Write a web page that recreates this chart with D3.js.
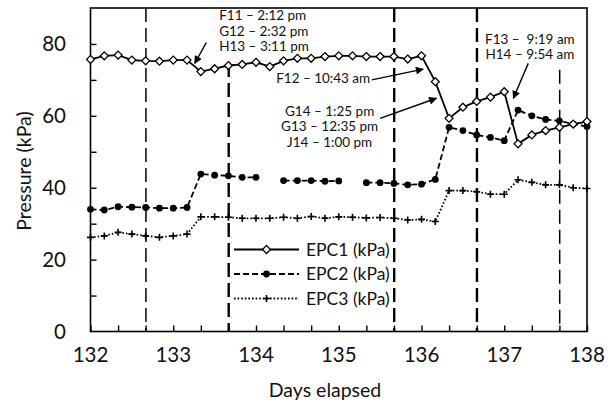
<!DOCTYPE html>
<html>
<head>
<meta charset="utf-8">
<script src="https://cdn.jsdelivr.net/npm/d3@7"></script>
<style>
  body { margin: 0; background: #fff; }
  svg { font-family: Lato, "Open Sans", sans-serif; }
</style>
</head>
<body>
<svg id="chart" width="609" height="411"></svg>
<script>
// readings every 4 hours from day 132 to day 138
const step = 1 / 6;
const epc1 = [75.7, 76.7, 76.9, 75.5, 75.3, 75.2, 75.5, 75.5, 72.3, 73.1, 74.0, 74.3, 74.9, 73.7,
              75.3, 76.0, 76.0, 76.5, 76.7, 76.7, 76.5, 76.5, 76.5, 75.8, 76.7, 69.5, 59.3, 62.4,
              64.0, 65.2, 66.7, 52.2, 54.7, 55.9, 56.8, 57.7, 58.4];
const epc2 = [34.0, 33.8, 34.7, 34.6, 34.5, 34.3, 34.3, 34.5, 43.8, 43.5, 43.3, 42.9, 42.9, null,
              42.0, 42.0, 42.0, 41.8, 41.9, null, 41.4, 41.4, 41.2, 40.8, 41.0, 42.3, 56.8, 55.9,
              54.7, 54.0, 53.1, 61.6, 60.0, 59.0, 58.6, 57.7, 57.0];
const epc3 = [26.2, 26.6, 27.6, 27.1, 26.6, 26.2, 26.6, 27.1, 31.9, 31.9, 31.8, 31.5, 31.5, 31.5,
              31.8, 31.5, 32.0, 31.5, 31.9, 31.8, 31.6, 31.7, 31.5, 31.0, 31.2, 30.6, 39.2, 39.2,
              38.9, 38.2, 38.2, 42.2, 41.5, 40.8, 40.8, 40.0, 39.8];
const seriesNames = ["EPC1 (kPa)", "EPC2 (kPa)", "EPC3 (kPa)"];
const xTickLabels = [132, 133, 134, 135, 136, 137, 138];
const yTickLabels = [0, 20, 40, 60, 80];
// vertical event lines (day), heavy = true for the bold ones, top = where the line starts
const eventDays = [132.67, 133.67, 135.67, 136.67, 137.67];
const eventHeavy = [false, true, true, true, false];
const eventTop = [90, 74.7, 90, 90, 72.8];
// annotations: text lines, text anchor point, arrow from -> to (data units)
const notes = [
  { lines: ["F11 – 2:12 pm", "G12 – 2:32 pm", "H13 – 3:11 pm"], at: [133.555, 86.6], anchor: "start",
    from: [133.40, 80.4], to: [133.26, 74.6] },
  { lines: ["F12 – 10:43 am"], at: [135.38, 69.0], anchor: "end",
    from: [135.40, 70.0], to: [136.02, 73.0] },
  { lines: ["G14 – 1:25 pm", "G13 – 12:35 pm", "J14 – 1:00 pm"], at: [134.89, 60.0], anchor: "middle",
    from: [135.50, 59.3], to: [136.18, 64.9] },
  { lines: ["F13 –  9:19 am", "H14 – 9:54 am"], at: [137.31, 80.0], anchor: "middle",
    from: [137.29, 74.6], to: [137.11, 64.9] }
];

const svg = d3.select("#chart");
const x = d3.scaleLinear().domain([132, 138]).range([90.5, 587]);
const y = d3.scaleLinear().domain([0, 90]).range([331.5, 8]);
const days = epc1.map((d, i) => 132 + i * step);

// frame
svg.append("rect")
    .attr("x", x(132)).attr("y", y(90))
    .attr("width", x(138) - x(132)).attr("height", y(0) - y(90))
    .attr("fill", "none").attr("stroke", "#000").attr("stroke-width", 1.6);

// axes with inward ticks
const xAxis = d3.axisBottom(x)
    .tickValues(d3.range(0, 19).map(k => 132 + k / 3))
    .tickSize(-6).tickFormat("");
svg.append("g").attr("transform", `translate(0,${y(0)})`).call(xAxis)
    .call(g => g.select(".domain").remove())
    .selectAll("line").attr("stroke", "#000").attr("stroke-width", 1.4);
svg.append("g").selectAll("text").data(xTickLabels).enter().append("text")
    .attr("x", d => x(d)).attr("y", 362)
    .attr("text-anchor", "middle").attr("font-size", 20.5).attr("fill", "#111")
    .text(d => d);

const yAxis = d3.axisLeft(y).tickValues(d3.range(10, 90, 10)).tickSize(-6).tickFormat("");
svg.append("g").attr("transform", `translate(${x(132)},0)`).call(yAxis)
    .call(g => g.select(".domain").remove())
    .selectAll("line").attr("stroke", "#000").attr("stroke-width", 1.4);
svg.append("g").selectAll("text").data(yTickLabels).enter().append("text")
    .attr("x", 66).attr("y", d => y(d) + 7.5)
    .attr("text-anchor", "end").attr("font-size", 20.5).attr("fill", "#111")
    .text(d => d);

svg.append("text").attr("x", 325).attr("y", 397)
    .attr("text-anchor", "middle").attr("font-size", 19.5).attr("fill", "#111")
    .text("Days elapsed");
svg.append("text").attr("transform", "translate(31,171) rotate(-90)")
    .attr("text-anchor", "middle").attr("font-size", 19.5).attr("fill", "#111")
    .text("Pressure (kPa)");

// event lines
svg.append("g").selectAll("line").data(eventDays).enter().append("line")
    .attr("x1", d => x(d)).attr("x2", d => x(d))
    .attr("y1", (d, i) => y(eventTop[i])).attr("y2", y(0))
    .attr("stroke", "#000")
    .attr("stroke-width", (d, i) => eventHeavy[i] ? 2.4 : 1.5)
    .attr("stroke-dasharray", "14,6");

// series
const styles = [
  { data: epc1, dash: null, marker: "diamond" },
  { data: epc2, dash: "6,3", marker: "circle" },
  { data: epc3, dash: "1.6,2", marker: "plus" }
];
const line = d3.line().defined(d => d[1] != null).x(d => x(d[0])).y(d => y(d[1]));

function drawMarker(g, type, cx, cy) {
  if (type === "diamond") {
    g.append("path").attr("d", d3.symbol(d3.symbolDiamond2, 40)())
      .attr("transform", `translate(${cx},${cy})`)
      .attr("fill", "#fff").attr("stroke", "#000").attr("stroke-width", 1.3);
  } else if (type === "circle") {
    g.append("circle").attr("cx", cx).attr("cy", cy).attr("r", 3.4).attr("fill", "#000");
  } else {
    g.append("path").attr("d", `M${cx - 3.5},${cy}H${cx + 3.5}M${cx},${cy - 3.5}V${cy + 3.5}`)
      .attr("stroke", "#000").attr("stroke-width", 1.6);
  }
}

styles.forEach(s => {
  const pts = days.map((d, i) => [d, s.data[i]]);
  svg.append("path").datum(pts).attr("d", line)
    .attr("fill", "none").attr("stroke", "#000").attr("stroke-width", 1.8)
    .attr("stroke-dasharray", s.dash);
});
styles.slice().reverse().forEach(s => {
  const g = svg.append("g");
  days.forEach((d, i) => {
    if (s.data[i] != null) drawMarker(g, s.marker, x(d), y(s.data[i]));
  });
});

// annotations
svg.append("defs").append("marker")
    .attr("id", "arrow").attr("viewBox", "0 0 10 10")
    .attr("refX", 9).attr("refY", 5)
    .attr("markerWidth", 9).attr("markerHeight", 8)
    .attr("markerUnits", "userSpaceOnUse")
    .attr("orient", "auto")
    .append("path").attr("d", "M0,0L10,5L0,10Z").attr("fill", "#000");

notes.forEach(n => {
  svg.append("line")
    .attr("x1", x(n.from[0])).attr("y1", y(n.from[1]))
    .attr("x2", x(n.to[0])).attr("y2", y(n.to[1]))
    .attr("stroke", "#000").attr("stroke-width", 1.4)
    .attr("marker-end", "url(#arrow)");
  const t = svg.append("text").attr("font-size", 13.5).attr("fill", "#111")
    .attr("text-anchor", n.anchor);
  n.lines.forEach((l, k) => {
    t.append("tspan").attr("x", x(n.at[0])).attr("y", y(n.at[1]) + k * 15.5)
      .attr("xml:space", "preserve").text(l);
  });
});

// legend
const legend = svg.append("g");
seriesNames.forEach((name, i) => {
  const ly = 249.5 + i * 24.5;
  legend.append("line").attr("x1", 234).attr("x2", 299).attr("y1", ly).attr("y2", ly)
    .attr("stroke", "#000").attr("stroke-width", 1.8)
    .attr("stroke-dasharray", styles[i].dash);
  drawMarker(legend, styles[i].marker, 266.5, ly);
  legend.append("text").attr("x", 306).attr("y", ly + 6)
    .attr("font-size", 17.5).attr("fill", "#111").text(name);
});
</script>
</body>
</html>
